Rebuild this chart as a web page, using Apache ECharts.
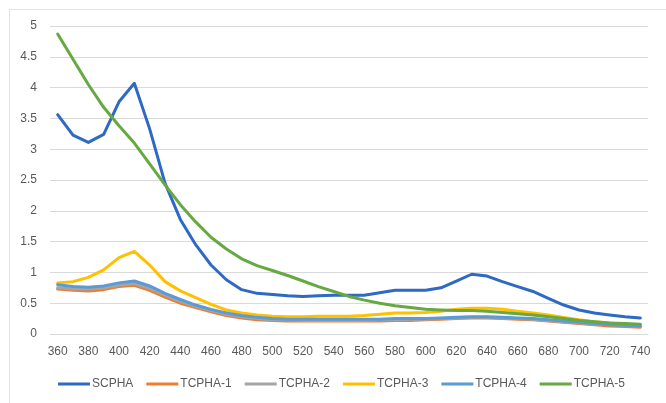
<!DOCTYPE html>
<html>
<head>
<meta charset="utf-8">
<script src="https://cdn.jsdelivr.net/npm/echarts@6/dist/echarts.min.js"></script>
<style>
html,body{margin:0;padding:0;background:#fff;}
#chart{width:666px;height:403px;}
</style>
</head>
<body>
<div id="chart"></div>
<script>
const categories = ['360','370','380','390','400','410','420','430','440','450','460','470','480','490','500','510','520','530','540','550','560','570','580','590','600','610','620','630','640','650','660','670','680','690','700','710','720','730','740'];

const scpha  = [3.56,3.23,3.11,3.24,3.77,4.07,3.33,2.45,1.86,1.45,1.12,0.88,0.72,0.66,0.64,0.62,0.61,0.62,0.63,0.63,0.63,0.67,0.71,0.71,0.71,0.75,0.86,0.97,0.94,0.85,0.77,0.69,0.58,0.47,0.39,0.34,0.31,0.28,0.26];
const tcpha1 = [0.73,0.71,0.70,0.72,0.77,0.79,0.71,0.60,0.50,0.43,0.36,0.30,0.26,0.23,0.22,0.21,0.21,0.21,0.21,0.21,0.21,0.21,0.22,0.22,0.23,0.24,0.25,0.26,0.26,0.25,0.24,0.23,0.21,0.19,0.17,0.15,0.13,0.12,0.11];
const tcpha2 = [0.75,0.73,0.73,0.75,0.79,0.82,0.74,0.63,0.53,0.45,0.38,0.32,0.28,0.25,0.23,0.23,0.22,0.22,0.22,0.22,0.22,0.23,0.23,0.24,0.24,0.25,0.26,0.27,0.27,0.26,0.25,0.24,0.22,0.20,0.18,0.16,0.15,0.14,0.13];
const tcpha3 = [0.83,0.85,0.92,1.04,1.24,1.34,1.12,0.85,0.70,0.59,0.48,0.39,0.34,0.31,0.29,0.28,0.28,0.29,0.29,0.29,0.30,0.32,0.34,0.34,0.35,0.37,0.40,0.42,0.42,0.40,0.37,0.34,0.31,0.27,0.23,0.20,0.18,0.16,0.15];
const tcpha4 = [0.80,0.77,0.76,0.78,0.83,0.86,0.78,0.66,0.56,0.47,0.40,0.34,0.30,0.27,0.25,0.24,0.24,0.24,0.24,0.24,0.24,0.24,0.25,0.25,0.25,0.26,0.27,0.28,0.28,0.27,0.26,0.25,0.23,0.21,0.19,0.17,0.15,0.14,0.13];
const tcpha5 = [4.87,4.46,4.05,3.68,3.38,3.10,2.76,2.42,2.10,1.82,1.57,1.38,1.22,1.11,1.03,0.95,0.86,0.77,0.69,0.61,0.55,0.50,0.46,0.43,0.40,0.39,0.38,0.38,0.37,0.35,0.33,0.31,0.28,0.25,0.22,0.20,0.18,0.17,0.16];

const seriesNames = ['SCPHA','TCPHA-1','TCPHA-2','TCPHA-3','TCPHA-4','TCPHA-5'];
const seriesData = [scpha, tcpha1, tcpha2, tcpha3, tcpha4, tcpha5];
const colors = ['#2E69C3','#ED7D31','#A5A5A5','#FFC000','#5B9BD5','#66A841'];

const font = '"Liberation Sans", Arial, sans-serif';
const chart = echarts.init(document.getElementById('chart'), null, {renderer:'canvas'});
chart.setOption({
  animation: false,
  backgroundColor: '#fff',
  color: colors,
  textStyle: {fontFamily: font},
  grid: {left: 50, right: 18, top: 26, bottom: 69, containLabel: false},
  legend: {
    bottom: 8,
    left: 53,
    icon: 'rect',
    itemWidth: 32,
    itemHeight: 3,
    itemGap: 13,
    textStyle: {color: '#595959', fontSize: 12, fontFamily: font, padding: [0,0,0,-3]},
    data: seriesNames
  },
  xAxis: {
    type: 'category',
    data: categories,
    boundaryGap: true,
    axisLine: {show: true, lineStyle: {color: '#d9d9d9', width: 1}},
    axisTick: {show: false},
    axisLabel: {interval: 1, color: '#595959', fontSize: 12, margin: 12, fontFamily: font},
    splitLine: {show: false}
  },
  yAxis: {
    type: 'value',
    min: 0, max: 5, interval: 0.5,
    axisLine: {show: false},
    axisTick: {show: false},
    axisLabel: {color: '#595959', fontSize: 12, margin: 13, fontFamily: font},
    splitLine: {show: true, lineStyle: {color: '#d9d9d9', width: 1}}
  },
  graphic: [
    {type:'line', shape:{x1:9.5,y1:9.5,x2:9.5,y2:403}, style:{stroke:'#e3e3e3',lineWidth:1}, silent:true},
    {type:'line', shape:{x1:9.5,y1:9.5,x2:666,y2:9.5}, style:{stroke:'#e3e3e3',lineWidth:1}, silent:true}
  ],
  series: seriesNames.map((n,i)=>({
    name: n,
    type: 'line',
    data: seriesData[i],
    showSymbol: false,
    symbol: 'none',
    smooth: false,
    lineStyle: {width: 3, color: colors[i], cap: 'round', join: 'round'},
    itemStyle: {color: colors[i]},
    z: 2 + i
  }))
});
</script>
</body>
</html>
